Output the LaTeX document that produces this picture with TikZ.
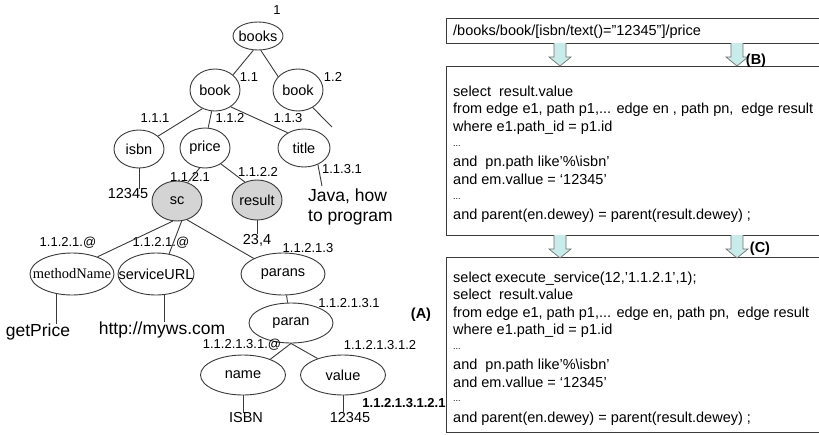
\documentclass[tikz,border=0pt]{standalone}
\usepackage{fontspec}
\setmainfont{Liberation Sans}
\newfontfamily\timesf{Liberation Serif}
\usetikzlibrary{shapes.geometric}
\definecolor{arrowc}{HTML}{C8ECEA}
\definecolor{linec}{HTML}{3A3A3A}
\begin{document}
\begin{tikzpicture}[x=1pt,y=-1pt,
  tn/.style={ellipse, draw=linec, line width=0.9pt, inner sep=0pt, minimum width=50pt, minimum height=40pt},
  gr/.style={fill=black!17},
  dw/.style={font=\fontsize{13}{15}\selectfont, inner sep=0pt},
  dwb/.style={font=\fontsize{13}{15}\selectfont\bfseries, inner sep=0pt},
  lf/.style={font=\fontsize{14.5}{17}\selectfont, inner sep=0pt},
  bg/.style={font=\fontsize{17.5}{20}\selectfont, inner sep=0pt},
  ed/.style={draw=linec, line width=0.9pt},
  boxst/.style={draw=linec, line width=1.3pt, inner sep=0pt, anchor=north west, minimum width=400pt},
  ql/.style={font=\fontsize{14.5}{17.7}\selectfont, anchor=base west, inner sep=0pt},
  qd/.style={font=\fontsize{9}{10}\selectfont, anchor=base west, inner sep=0pt},
  tag/.style={font=\fontsize{14.5}{17}\selectfont\bfseries, inner sep=0pt},
  every label/.append style={font=\fontsize{14.5}{17}\selectfont, inner sep=0pt},
  barrow/.pic={\filldraw[fill=arrowc, draw=black!55, line width=0.7pt] (-6,0) -- (-6,14) -- (-11,14) -- (0,23) -- (11,14) -- (6,14) -- (6,0);}
]
\useasboundingbox (0,0) rectangle (819,434);
\clip (0,0) rectangle (819,434);
\fill[white] (0,0) rectangle (819,434);

% tree nodes
\node[tn, minimum height=28pt, label=center:books] (books) at (258,36) {};
\node[tn, minimum height=42pt, label=center:book] (b1) at (215,90) {};
\node[tn, minimum height=42pt, label=center:book] (b2) at (298,90) {};
\node[tn, minimum height=38pt, label=center:isbn] (isbn) at (139,149) {};
\node[tn, label=center:price] (price) at (205,148) {};
\node[tn, minimum width=52pt, minimum height=38pt, label=center:title] (title) at (304,148) {};
\node[tn, gr, label=center:sc] (sc) at (177,201) {};
\node[tn, gr, label=center:result] (result) at (257,200) {};
\node[tn, minimum width=84pt, minimum height=42pt, label={[font=\fontsize{14.5}{17}\selectfont\timesf]center:methodName}] (mn) at (72,274) {};
\node[tn, minimum width=76pt, minimum height=42pt, label=center:serviceURL] (su) at (156,274) {};
\node[tn, minimum width=84pt, minimum height=42pt, label=center:parans] (parans) at (283,274) {};
\node[tn, minimum width=84pt, minimum height=40pt, label=center:paran] (paran) at (291,323) {};
\node[tn, minimum width=85pt, minimum height=40pt, label=center:name] (name) at (243,375) {};
\node[tn, minimum width=85pt, minimum height=40pt, label=center:value] (value) at (343,375) {};

% dewey labels
\node[dw] (l1) at (277,10) {1};
\node[dw] (l11) at (249,77) {1.1};
\node[dw] (l12) at (333,77) {1.2};
\node[dw] (l111) at (155,118) {1.1.1};
\node[dw] (l112) at (230,118) {1.1.2};
\node[dw] (l113) at (288,118) {1.1.3};
\node[dw] (l1121) at (190,177) {1.1.2.1};
\node[dw] (l1122) at (258,172) {1.1.2.2};
\node[dw] (l1131) at (342,169) {1.1.3.1};
\node[dw] (la1) at (68,243) {1.1.2.1.@};
\node[dw] (la2) at (161,243) {1.1.2.1.@};
\node[dw] (l11213) at (308,248) {1.1.2.1.3};
\node[dw] (l112131) at (349,303) {1.1.2.1.3.1};
\node[dw] (la3) at (242,345) {1.1.2.1.3.1.@};
\node[dw] (l1121312) at (380,345) {1.1.2.1.3.1.2};
\node[dwb] (l11213121) at (404,403) {1.1.2.1.3.1.2.1};
\node[tag] (tA) at (421,315) {(A)};

% values
\node[lf] (v1) at (128,194) {12345};
\node[lf] (v234) at (257,240) {23,4};
\node[lf] (visbn) at (246,418) {ISBN};
\node[lf] (v2) at (350,418) {12345};
\node[bg] (gp) at (38,332) {getPrice};
\node[bg] (http) at (162,330) {http://myws.com};
\node[bg, align=left, anchor=west] (java) at (308,207) {Java, how\\to program};
\coordinate (b2end) at (332,127);
\coordinate (javaend) at (322,186);

% edges
\draw[ed] (books.252) -- (b1.40);
\draw[ed] (books.281) -- (b2.146);
\draw[ed] (b2.310) -- (b2end);
\draw[ed] (b1.236) -- (isbn.34);
\draw[ed] (b1.261) -- (price.81);
\draw[ed] (b1.313) -- (title.137);
\draw[ed] (isbn.south) -- (isbn.south |- v1.north);
\draw[ed] (price.255) -- (sc.60);
\draw[ed] (price.315) -- (result.124);
\draw[ed] (title.310) -- (javaend);
\draw[ed] (result.south) -- (v234.north);
\draw[ed] (sc.258) -- (mn.34);
\draw[ed] (sc.283) -- (su.57);
\draw[ed] (sc.298) -- (parans.152);
\draw[ed] (mn.233) -- (mn.233 |- gp.north);
\draw[ed] (su.291) -- (su.291 |- http.north);
\draw[ed] (parans) -- (paran);
\draw[ed] (paran.south) -- (name.30);
\draw[ed] (paran.south) -- (value.147);
\draw[ed] (name.south) -- (name.south |- visbn.north);
\draw[ed] (value.south) -- (value.south |- v2.north);

% right side boxes
\node[boxst, minimum height=25pt] (q) at (446,18) {};
\node[boxst, minimum height=169pt] (bb) at (446,66) {};
\node[boxst, minimum height=175pt] (bc) at (446,257) {};

\node[ql] (qt) at (453,35) {/books/book/[isbn/text()="12345"]/price};

\pic at (560,43) {barrow};
\pic at (737,43) {barrow};
\pic at (560,235) {barrow};
\pic at (737,235) {barrow};
\node[tag] (tB) at (756,61) {(B)};
\node[tag] (tC) at (760,249) {(C)};

% box B text
\node[ql] (b1t) at (453,96) {select\ \ result.value};
\node[ql] (b2t) at (453,113.7) {from edge e1, path p1,... edge en , path pn,\ \ edge result};
\node[ql] (b3t) at (453,131.4) {where e1.path\_id = p1.id};
\node[qd] (b4t) at (453,146) {...};
\node[ql] (b5t) at (453,166.8) {and\ \ pn.path like’\%\textbackslash isbn’};
\node[ql] (b6t) at (453,184.5) {and em.vallue = ‘12345’};
\node[qd] (b7t) at (453,199) {...};
\node[ql] (b8t) at (453,219.9) {and parent(en.dewey) = parent(result.dewey) ;};

% box C text
\node[ql] (c1t) at (453,282) {select execute\_service(12,’1.1.2.1’,1);};
\node[ql] (c2t) at (453,299.5) {select\ \ result.value};
\node[ql] (c3t) at (453,317) {from edge e1, path p1,... edge en, path pn,\ \ edge result};
\node[ql] (c4t) at (453,334.5) {where e1.path\_id = p1.id};
\node[qd] (c5t) at (453,349) {...};
\node[ql] (c6t) at (453,369.5) {and\ \ pn.path like’\%\textbackslash isbn’};
\node[ql] (c7t) at (453,387) {and em.vallue = ‘12345’};
\node[qd] (c8t) at (453,401.5) {...};
\node[ql] (c9t) at (453,422) {and parent(en.dewey) = parent(result.dewey) ;};
\end{tikzpicture}
\end{document}
